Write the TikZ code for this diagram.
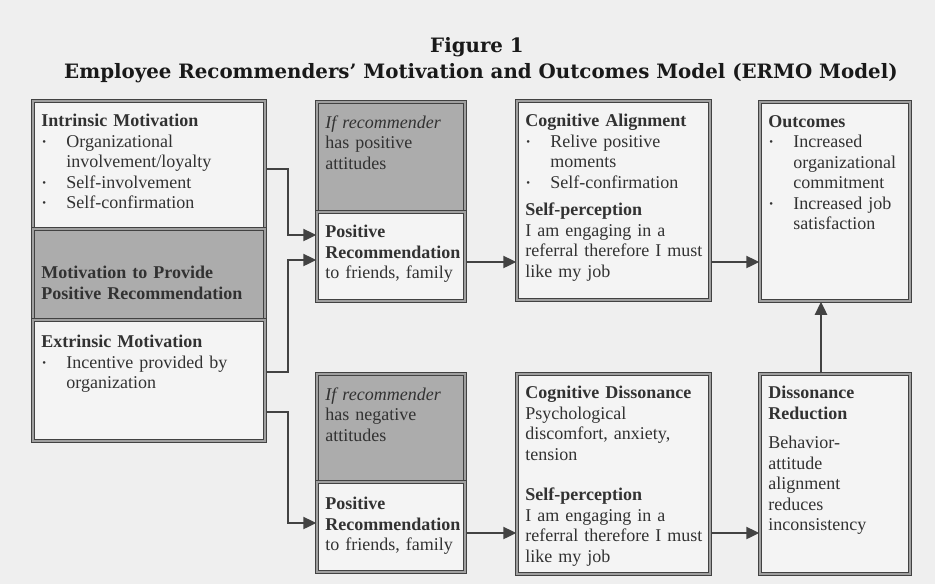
\documentclass[tikz,border=0pt]{standalone}
\usepackage{fontspec}
\setmainfont{Liberation Serif}
\newfontfamily\titlefont{DejaVu Serif}
\usetikzlibrary{arrows.meta, positioning}
\definecolor{erPaper}{RGB}{239, 239, 239}
\definecolor{erBox}{RGB}{244, 244, 244}
\definecolor{erShade}{RGB}{172, 172, 172}
\definecolor{erLine}{RGB}{66, 66, 66}
\definecolor{erInk}{RGB}{50, 50, 50}
\newcommand{\bitem}[1]{\par\hangindent=25pt\hangafter=1\noindent\makebox[25pt][l]{\hspace{1pt}\raisebox{0.25ex}{\scalebox{0.6}{\textbullet}}}#1\par}
\tikzset{
  panel/.style={rectangle, draw=erLine, double=gray!75, double distance=1.3pt, line width=1.5pt, fill=erBox, inner sep=0pt},
  shadepanel/.style={panel, fill=erShade},
  blurb/.style={anchor=north west, inner sep=0pt, align=left, text=erInk, font=\fontsize{18}{20.5}\selectfont, text width=#1},
  blurb/.default=200pt,
  link/.style={-{Triangle[length=13pt, width=12pt]}, line width=2.4pt, erLine},
}

\begin{document}
\begin{tikzpicture}[x=1pt, y=-1pt]
  \useasboundingbox (0,0) rectangle (935,584);
  \fill[erPaper] (0,0) rectangle (935,584);

  % Title
  \node[font=\titlefont\bfseries\fontsize{19.8}{22}\selectfont, text=black!90] (fig) at (477,47) {Figure 1};
  \node[font=\titlefont\bfseries\fontsize{19.8}{22}\selectfont, text=black!90] (caption) at (481,73) {Employee Recommenders’ Motivation and Outcomes Model (ERMO Model)};

  % Motivation column
  \node[panel, minimum width=232pt, minimum height=128pt] (intr) at (149,165) {};
  \node[shadepanel, minimum width=232pt, minimum height=91pt] (motiv) at (149,274.5) {};
  \node[panel, minimum width=232pt, minimum height=121pt] (extr) at (149,380.5) {};

  % Recommendation column
  \node[shadepanel, minimum width=148pt, minimum height=110pt] (posatt) at (391,157) {};
  \node[panel, minimum width=148pt, minimum height=89pt] (posrec) at (391,256.5) {};
  \node[shadepanel, minimum width=148pt, minimum height=108pt] (negatt) at (391,428) {};
  \node[panel, minimum width=148pt, minimum height=90pt] (negrec) at (391,527) {};

  % Cognition and outcome column
  \node[panel, minimum width=193pt, minimum height=199pt] (align) at (613.5,200.5) {};
  \node[panel, minimum width=150pt, minimum height=199pt] (outc) at (835,201.5) {};
  \node[panel, minimum width=193pt, minimum height=200pt] (disso) at (613.5,474) {};
  \node[panel, minimum width=150pt, minimum height=200pt] (reduc) at (835,474) {};

  % Texts
  \node[blurb=218pt] (intrtxt) at ([shift={(9pt,-14pt)}]intr.north west) {\textbf{Intrinsic Motivation}\bitem{Organizational\newline involvement/loyalty}\bitem{Self-involvement}\bitem{Self-confirmation}};
  \node[blurb=218pt] (motivtxt) at ([shift={(9pt,-38pt)}]motiv.north west) {\textbf{Motivation to Provide\\Positive Recommendation}};
  \node[blurb=218pt] (extrtxt) at ([shift={(9pt,-16pt)}]extr.north west) {\textbf{Extrinsic Motivation}\bitem{Incentive provided by\newline organization}};
  \node[blurb=138pt] (posatttxt) at ([shift={(9pt,-14pt)}]posatt.north west) {\textit{If recommender}\\has positive\\attitudes};
  \node[blurb=142pt] (posrectxt) at ([shift={(9pt,-14pt)}]posrec.north west) {\textbf{Positive\\Recommendation}\\to friends, family};
  \node[blurb=138pt] (negatttxt) at ([shift={(9pt,-14pt)}]negatt.north west) {\textit{If recommender}\\has negative\\attitudes};
  \node[blurb=142pt] (negrectxt) at ([shift={(9pt,-16pt)}]negrec.north west) {\textbf{Positive\\Recommendation}\\to friends, family};
  \node[blurb=182pt] (aligntxt) at ([shift={(9pt,-14pt)}]align.north west) {\textbf{Cognitive Alignment}\bitem{Relive positive\newline moments}\bitem{Self-confirmation}\vspace{7pt}\noindent\textbf{Self-perception}\\I am engaging in a\\referral therefore I must\\like my job};
  \node[blurb=140pt] (outctxt) at ([shift={(9pt,-14pt)}]outc.north west) {\textbf{Outcomes}\bitem{Increased\newline organizational\newline commitment}\bitem{Increased job\newline satisfaction}};
  \node[blurb=182pt] (dissotxt) at ([shift={(9pt,-13pt)}]disso.north west) {\textbf{Cognitive Dissonance}\\Psychological\\discomfort, anxiety,\\tension\par\vspace{20pt}\noindent\textbf{Self-perception}\\I am engaging in a\\referral therefore I must\\like my job};
  \node[blurb=140pt] (reductxt) at ([shift={(9pt,-13pt)}]reduc.north west) {\textbf{Dissonance\\Reduction}\par\vspace{9pt}\noindent Behavior-\\attitude\\alignment\\reduces\\inconsistency};

  % Arrows
  \draw[link] ([yshift=-4pt]intr.east) -- ++(22,0) |- ([yshift=21.5pt]posrec.west);
  \draw[link] ([yshift=8.5pt]extr.east) -- ++(22,0) |- ([yshift=-3.5pt]posrec.west);
  \draw[link] ([yshift=-31.5pt]extr.east) -- ++(22,0) |- ([yshift=4pt]negrec.west);
  \draw[link] ([yshift=-5.5pt]posrec.east) -- ([yshift=-61.5pt]align.west);
  \draw[link] ([yshift=-6pt]negrec.east) -- ([yshift=-59pt]disso.west);
  \draw[link] ([yshift=-61.5pt]align.east) -- ([yshift=-60.5pt]outc.west);
  \draw[link] ([yshift=-59pt]disso.east) -- ([yshift=-59pt]reduc.west);
  \draw[link] ([xshift=-14pt]reduc.north) -- ([xshift=-14pt]outc.south);
\end{tikzpicture}
\end{document}
